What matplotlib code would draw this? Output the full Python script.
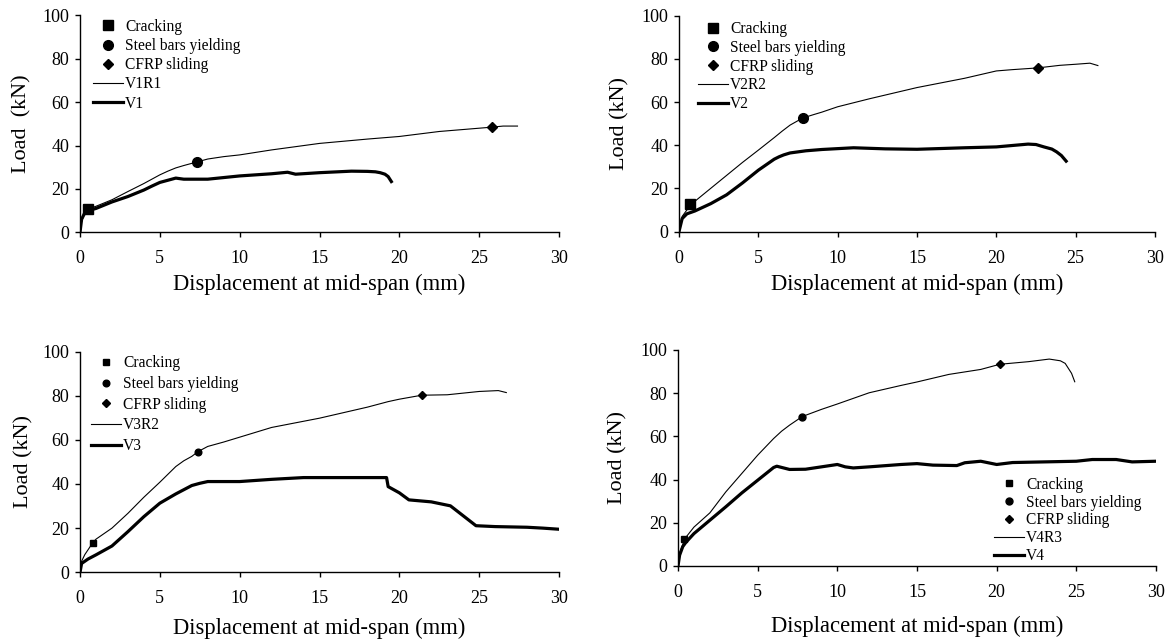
import matplotlib
matplotlib.use("Agg")
import matplotlib.pyplot as plt
from matplotlib.lines import Line2D

plt.rcParams["font.family"] = ["Liberation Serif", "DejaVu Serif"]

# ---- panel 1: V1 / V1R1 ----
v1r1_x = [0, 0.1, 0.3, 0.5, 1, 2, 3, 4, 5, 5.5, 6, 6.5, 7, 7.3, 7.7, 8, 9, 10, 12, 15, 18, 20, 22.5, 25.8, 26.5, 27.4]
v1r1_y = [0, 5, 9, 10.8, 12, 15, 18.8, 22.5, 26.5, 28.2, 29.7, 30.8, 31.8, 32.3, 33.2, 33.8, 34.9, 35.7, 38, 41, 43, 44.2, 46.5, 48.5, 49, 49]
v1_x = [0, 0.1, 0.3, 0.5, 1, 2, 3, 4, 4.5, 5, 5.5, 6, 6.5, 8, 10, 12, 13, 13.5, 15, 17, 18, 18.5, 18.8, 19.1, 19.3, 19.5]
v1_y = [0, 6, 9, 10, 11, 14, 16.5, 19.5, 21.3, 23, 24, 25, 24.5, 24.5, 26, 27, 27.7, 26.8, 27.5, 28.2, 28.1, 27.9, 27.5, 26.8, 25.7, 23.4]
v1_crack, v1_yield, v1_slide = (0.5, 10.8), (7.3, 32.3), (25.8, 48.5)

# ---- panel 2: V2 / V2R2 ----
v2r2_x = [0, 0.2, 0.5, 0.7, 1, 2, 3, 4, 5, 6, 6.5, 7, 7.8, 8.5, 9, 10, 12, 15, 18, 20, 21, 22.6, 24, 25, 25.9, 26.4]
v2r2_y = [0, 7, 10, 12.6, 14, 20, 26, 32, 37.7, 43.5, 46.5, 49.3, 52.6, 54.2, 55.3, 57.8, 61.5, 66.7, 71, 74.4, 75, 75.8, 77, 77.5, 78, 76.9]
v2_x = [0, 0.2, 0.5, 1, 2, 3, 4, 5, 6, 6.3, 6.6, 7, 8, 9, 11, 13, 15, 18, 20, 22, 22.5, 23, 23.5, 23.8, 24.1, 24.4]
v2_y = [0, 6, 8.2, 9.5, 12.9, 17, 22.5, 28.4, 33.5, 34.6, 35.5, 36.4, 37.4, 38, 38.8, 38.3, 38.1, 38.8, 39.2, 40.5, 40.3, 39.2, 38.2, 36.9, 35.2, 32.6]
v2_crack, v2_yield, v2_slide = (0.7, 12.6), (7.8, 52.6), (22.6, 75.8)

# ---- panel 3: V3 / V3R2 ----
v3r2_x = [0, 0.1, 0.3, 0.8, 1, 2, 3, 4, 5, 6, 6.5, 7, 7.4, 8, 9, 10, 12, 15, 18, 19.3, 20, 21.4, 23, 25, 26.2, 26.7]
v3r2_y = [0, 5, 8, 13.4, 15, 20, 26.7, 34, 40.8, 47.9, 50.5, 52.5, 54.7, 57, 59, 61.2, 65.6, 69.8, 74.8, 77.3, 78.4, 80.2, 80.4, 81.9, 82.3, 81.4]
v3_x = [0, 0.1, 0.5, 1, 2, 3, 4, 5, 6, 7, 7.5, 8, 10, 12, 14, 19.2, 19.3, 20, 20.6, 22, 23.2, 24.8, 26, 28, 29, 30]
v3_y = [0, 4, 6, 7.9, 11.9, 18.4, 25.2, 31.3, 35.5, 39.3, 40.3, 41.1, 41.1, 42.1, 42.9, 42.9, 38.8, 36, 32.8, 31.9, 30.1, 21.1, 20.7, 20.4, 20, 19.5]
v3_crack, v3_yield, v3_slide = (0.8, 13.4), (7.4, 54.7), (21.4, 80.2)

# ---- panel 4: V4 / V4R3 ----
v4r3_x = [0, 0.1, 0.3, 0.4, 1, 2, 3, 4, 5, 6, 6.5, 7, 7.8, 9, 10, 12, 14, 15, 17, 19, 20.2, 22, 23.3, 24, 24.3, 24.7, 24.9]
v4r3_y = [0, 6, 10, 12.4, 18, 24.6, 34.3, 42.8, 51.3, 59, 62.4, 65.2, 69.2, 72.5, 75, 80.2, 83.6, 85.2, 88.7, 91, 93.4, 94.6, 95.8, 95, 93.8, 89.2, 85.3]
v4_x = [0, 0.1, 0.3, 0.5, 1, 2, 3, 4, 5, 6, 6.2, 7, 8, 9, 10, 10.5, 11, 12, 14, 15, 16, 17.5, 18, 19, 20, 21, 23, 25, 26, 27.5, 28.5, 30]
v4_y = [0, 5, 9, 11, 15, 21.2, 27.4, 33.8, 39.7, 45.6, 46.2, 44.7, 44.8, 45.9, 47, 45.9, 45.4, 45.9, 47, 47.4, 46.7, 46.5, 47.8, 48.5, 47, 47.9, 48.2, 48.5, 49.3, 49.3, 48.2, 48.5]
v4_crack, v4_yield, v4_slide = (0.4, 12.4), (7.8, 69.2), (20.2, 93.4)

W, H = 1173, 641
fig = plt.figure(figsize=(W / 100, H / 100), dpi=100)


def px_axes(x0, x1, y_top, y_bot):
    return fig.add_axes([x0 / W, 1 - y_bot / H, (x1 - x0) / W, (y_bot - y_top) / H])


panels = [
    dict(box=(80, 559, 15.5, 232.3), thin=(v1r1_x, v1r1_y), thick=(v1_x, v1_y),
         pts=(v1_crack, v1_yield, v1_slide), names=("V1R1", "V1"), ms=7,
         ylabel="Load  (kN)", leg=(93, 18.7), lsp=0.21, xl=285, yl=20),
    dict(box=(679, 1155, 15.7, 231.5), thin=(v2r2_x, v2r2_y), thick=(v2_x, v2_y),
         pts=(v2_crack, v2_yield, v2_slide), names=("V2R2", "V2"), ms=7,
         ylabel="Load (kN)", leg=(698, 21), lsp=0.18, xl=285, yl=618),
    dict(box=(80, 559, 351.5, 572.3), thin=(v3r2_x, v3r2_y), thick=(v3_x, v3_y),
         pts=(v3_crack, v3_yield, v3_slide), names=("V3R2", "V3"), ms=4.8,
         ylabel="Load (kN)", leg=(91, 355.4), lsp=0.3, xl=629, yl=22),
    dict(box=(678, 1156, 350, 566), thin=(v4r3_x, v4r3_y), thick=(v4_x, v4_y),
         pts=(v4_crack, v4_yield, v4_slide), names=("V4R3", "V4"), ms=5,
         ylabel="Load (kN)", leg=(994, 476.7), lsp=0.12, xl=627, yl=616),
]

for p in panels:
    x0, x1, yt, yb = p["box"]
    ax = px_axes(x0, x1, yt, yb)
    ax.plot(*p["thick"], color="black", lw=2.3, solid_joinstyle="round")
    ax.plot(*p["thin"], color="black", lw=0.8)
    crack, yld, slide = p["pts"]
    ax.plot(*crack, marker="s", color="black", ms=p["ms"], ls="none")
    ax.plot(*yld, marker="o", color="black", ms=p["ms"], ls="none")
    ax.plot(*slide, marker="D", color="black", ms=p["ms"] * 0.8, ls="none")

    ax.set_xlim(0, 30)
    ax.set_ylim(0, 100)
    ax.set_xticks(range(0, 31, 5))
    ax.set_yticks(range(0, 101, 20))
    for s in ("top", "right"):
        ax.spines[s].set_visible(False)
    for s in ("left", "bottom"):
        ax.spines[s].set_linewidth(1.0)
    ax.tick_params(direction="out", length=3.5, width=1.0, labelsize=13, pad=4)
    ax.tick_params(axis="x", pad=9.5)

    ax.set_xlabel("Displacement at mid-span (mm)", fontsize=16.3)
    ax.xaxis.set_label_coords((x0 + x1) / 2 / W, 1 - (p["xl"] - 11) / H, transform=fig.transFigure)
    ax.set_ylabel(p["ylabel"], fontsize=16)
    ax.yaxis.set_label_coords((p["yl"] + 11) / W, 1 - (yt + yb) / 2 / H, transform=fig.transFigure)

    ms = p["ms"]
    handles = [
        Line2D([], [], marker="s", color="black", ls="none", ms=ms),
        Line2D([], [], marker="o", color="black", ls="none", ms=ms),
        Line2D([], [], marker="D", color="black", ls="none", ms=ms * 0.8),
        Line2D([], [], color="black", lw=0.8),
        Line2D([], [], color="black", lw=2.3),
    ]
    labels = ["Cracking", "Steel bars yielding", "CFRP sliding", p["names"][0], p["names"][1]]
    lx, ly = p["leg"]
    ax.legend(handles, labels, loc="upper left", bbox_to_anchor=(lx / W, 1 - ly / H),
              bbox_transform=fig.transFigure, frameon=False, fontsize=11.2,
              handlelength=1.9, handletextpad=0.15, labelspacing=p["lsp"],
              borderpad=0, borderaxespad=0)

fig.savefig("out.png", dpi=100)
